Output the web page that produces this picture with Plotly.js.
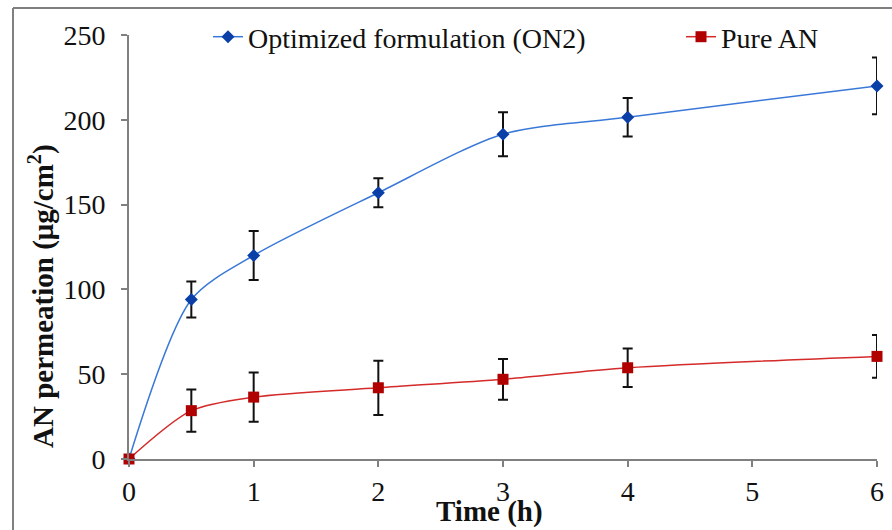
<!DOCTYPE html>
<html>
<head>
<meta charset="utf-8">
<script src="https://cdn.plot.ly/plotly-3.0.1.min.js"></script>
<style>html,body{margin:0;padding:0;background:#fff;}#chart{width:892px;height:530px;}</style>
</head>
<body>
<div id="chart"></div>
<script>
const timeH = [0, 0.5, 1, 2, 3, 4, 6];
const on2Values = [0, 94, 120, 157, 191.5, 201.5, 220];
const on2Errors = [0, 10.6, 14.5, 8.5, 13, 11.3, 16.7];
const pureValues = [0, 28.5, 36.5, 42, 47, 53.8, 60.5];
const pureErrors = [0, 12.5, 14.5, 16, 12, 11.4, 12.6];
const seriesNames = ["Optimized formulation (ON2)", "Pure AN"];
const xTicks = [0, 1, 2, 3, 4, 5, 6];
const yTicks = [0, 50, 100, 150, 200, 250];

const serif = "Liberation Serif";
const FS = 28;

const traces = [
  {
    x: timeH, y: on2Values, name: seriesNames[0], type: "scatter", mode: "lines+markers",
    line: {color: "#3A78D8", width: 1.5, shape: "spline", smoothing: 0.8},
    marker: {symbol: "diamond", size: 10, color: "#0A3FA8"},
    error_y: {type: "data", array: on2Errors, visible: true, color: "#111", thickness: 2, width: 5},
    cliponaxis: false, legend: "legend"
  },
  {
    x: timeH, y: pureValues, name: seriesNames[1], type: "scatter", mode: "lines+markers",
    line: {color: "#D42A2A", width: 1.5, shape: "spline", smoothing: 0.8},
    marker: {symbol: "square", size: 11, color: "#B00000"},
    error_y: {type: "data", array: pureErrors, visible: true, color: "#111", thickness: 2, width: 5},
    cliponaxis: false, legend: "legend2"
  }
];

const ml = 129, mt = 35, pw = 748, ph = 424;
const legendFont = {family: serif, size: FS, color: "#111"};
const layout = {
  width: 892, height: 530,
  margin: {l: ml, r: 892 - ml - pw, t: mt, b: 530 - mt - ph},
  paper_bgcolor: "#fff", plot_bgcolor: "#fff",
  font: {family: serif, size: FS, color: "#111"},
  showlegend: true,
  legend: {
    orientation: "h", x: (208 - ml) / pw, xanchor: "left", y: (459 - 37) / ph, yanchor: "middle",
    font: legendFont, bgcolor: "rgba(0,0,0,0)"
  },
  legend2: {
    orientation: "h", x: (681 - ml) / pw, xanchor: "left", y: (459 - 37) / ph, yanchor: "middle",
    font: legendFont, bgcolor: "rgba(0,0,0,0)"
  },
  xaxis: {
    range: [0, 6], tickvals: xTicks, ticktext: xTicks.map(String),
    showgrid: false, zeroline: false, showline: true, linecolor: "#808080", linewidth: 2,
    ticks: "outside", ticklen: 6, tickwidth: 2, tickcolor: "#808080",
    tickfont: {family: serif, size: FS, color: "#111"}, fixedrange: true
  },
  yaxis: {
    range: [0, 250], tickvals: yTicks, ticktext: yTicks.map(String),
    showgrid: false, zeroline: false, showline: true, linecolor: "#808080", linewidth: 2,
    ticks: "outside", ticklen: 6, tickwidth: 2, tickcolor: "#808080", ticklabelstandoff: 10,
    tickfont: {family: serif, size: FS, color: "#111"}, fixedrange: true
  },
  annotations: [
    {text: "<b>Time (h)</b>", xref: "paper", yref: "paper", x: (489 - ml) / pw, y: (459 - 511) / ph,
     xanchor: "center", yanchor: "middle", showarrow: false, font: {family: serif, size: 29, color: "#111"}},
    {text: "<b>AN permeation (μg/cm<sup>2</sup>)</b>", xref: "paper", yref: "paper", x: (41 - ml) / pw, y: (459 - 296) / ph,
     xanchor: "center", yanchor: "middle", textangle: -90, showarrow: false, font: {family: serif, size: 29, color: "#111"}}
  ],
  shapes: [
    {type: "line", xref: "paper", yref: "paper", x0: (13 - ml) / pw, x1: (13 - ml) / pw, y0: (459 - 8) / ph, y1: (459 - 540) / ph,
     line: {color: "#808080", width: 2}},
    {type: "line", xref: "paper", yref: "paper", x0: (13 - ml) / pw, x1: (900 - ml) / pw, y0: (459 - 8) / ph, y1: (459 - 8) / ph,
     line: {color: "#808080", width: 2}}
  ]
};

Plotly.newPlot("chart", traces, layout, {displayModeBar: false, staticPlot: true});
</script>
</body>
</html>
